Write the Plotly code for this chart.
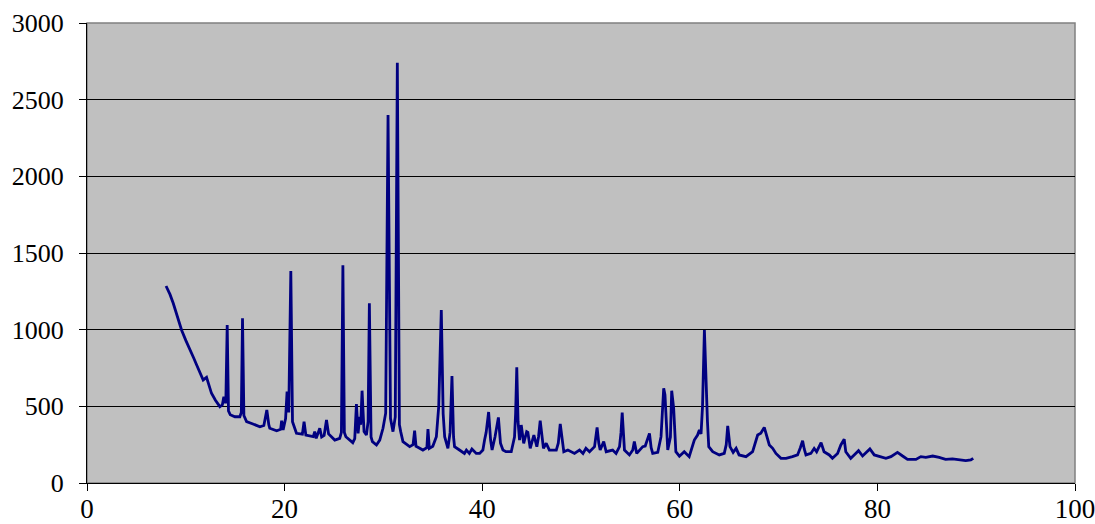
import plotly.graph_objects as go

two_theta = [
    8.0, 8.4, 8.73, 9.1, 9.57, 10.0, 10.4, 10.8, 11.1, 11.5, 11.76, 12.1, 12.3, 12.6, 13.0, 13.45,
    13.7, 13.85, 14.05, 14.19, 14.32, 14.5, 14.97, 15.47, 15.62, 15.74, 15.88, 16.15, 16.8, 17.5,
    17.9, 18.2, 18.4, 18.5, 19.2, 19.6, 19.7, 19.85, 20.1, 20.25, 20.42, 20.63, 20.8, 21.2, 21.8,
    21.97, 22.15, 22.9, 23.05, 23.2, 23.56, 23.75, 24.0, 24.24, 24.45, 24.57, 25.08, 25.58, 25.75,
    25.9, 26.05, 26.2, 26.9, 27.1, 27.27, 27.44, 27.6, 27.7, 27.84, 28.04, 28.28, 28.45, 28.58,
    28.75, 28.89, 29.3, 29.63, 29.96, 30.23, 30.47, 30.72, 30.97, 31.2, 31.41, 31.62, 31.75, 31.98,
    32.66, 33.0, 33.16, 33.3, 33.4, 34.0, 34.4, 34.51, 34.65, 35.0, 35.36, 35.6, 35.86, 36.05, 36.2,
    36.53, 36.75, 36.94, 37.1, 37.2, 37.7, 38.2, 38.4, 38.7, 38.96, 39.4, 39.74, 40.07, 40.24, 40.4,
    40.65, 40.85, 41.0, 41.3, 41.64, 41.85, 42.1, 42.4, 42.94, 43.27, 43.38, 43.5, 43.63, 43.78,
    43.95, 44.2, 44.5, 44.62, 44.86, 45.23, 45.53, 45.7, 45.87, 46.05, 46.2, 46.48, 46.8, 47.5, 47.7,
    47.9, 48.1, 48.26, 48.67, 49.34, 49.85, 50.2, 50.5, 50.86, 51.37, 51.5, 51.63, 51.8, 51.94, 52.3,
    52.55, 53.2, 53.55, 53.9, 54.05, 54.17, 54.3, 54.4, 54.9, 55.24, 55.4, 55.64, 56.25, 56.5, 56.93,
    57.1, 57.26, 57.77, 58.1, 58.37, 58.5, 58.78, 59.05, 59.18, 59.38, 59.6, 59.96, 60.1, 60.45,
    60.95, 61.47, 61.8, 61.98, 62.15, 62.3, 62.49, 62.66, 62.8, 62.93, 63.33, 64.0, 64.5, 64.7, 64.85,
    65.08, 65.4, 65.7, 66.0, 66.7, 67.37, 67.88, 68.2, 68.55, 68.8, 69.06, 69.4, 69.73, 70.24, 70.75,
    71.4, 71.92, 72.2, 72.43, 72.6, 72.77, 73.27, 73.6, 73.85, 74.3, 74.6, 75.13, 75.45, 75.97, 76.3,
    76.64, 76.8, 77.3, 77.65, 78.09, 78.5, 78.8, 79.24, 79.68, 80.2, 80.86, 81.37, 82.03, 82.55,
    83.05, 83.9, 84.4, 84.9, 85.6, 86.25, 86.9, 87.6, 88.27, 88.94, 89.45, 89.7,
]

intensity = [
    1285, 1230, 1172, 1090, 998, 930, 867, 815, 770, 715, 672, 689, 640, 585, 540, 498,
    510, 563, 520, 1030, 470, 445, 432, 432, 460, 1074, 440, 400, 385, 367,
    375, 476, 380, 357, 341, 350, 406, 346, 420, 596, 460, 1383, 400, 324, 318,
    400, 313, 302, 335, 291, 357, 300, 310, 411, 320, 313, 280, 291, 330,
    1420, 330, 302, 263, 290, 515, 324, 432, 380, 602, 335, 313, 400, 1172,
    300, 270, 248, 280, 357, 455, 2400, 420, 335, 431, 2741, 380, 335, 270,
    237, 250, 341, 240, 237, 215, 230, 352, 226, 240, 302, 500, 1128, 450, 302,
    226, 330, 698, 300, 237, 215, 193, 215, 193, 222, 193, 193, 215, 280, 330,
    463, 280, 215, 302, 428, 260, 215, 204, 204, 300, 450, 754, 400, 280,
    378, 259, 335, 330, 226, 313, 237, 300, 406, 280, 226, 259, 215, 215, 260,
    385, 260, 204, 215, 193, 215, 193, 226, 204, 237, 290, 363, 260, 215, 270,
    204, 215, 193, 237, 330, 459, 320, 215, 183, 215, 270, 193, 237, 241, 324,
    230, 193, 200, 302, 618, 574, 215, 300, 602, 487, 204, 175, 183, 204,
    172, 280, 313, 346, 320, 500, 998, 596, 400, 237, 204, 183, 193, 250, 372,
    237, 200, 226, 183, 172, 204, 313, 324, 363, 313, 248, 226, 193, 161, 161,
    172, 183, 230, 276, 220, 183, 193, 226, 204, 263, 204, 183, 161, 193, 248,
    285, 204, 161, 183, 211, 176, 193, 222, 183, 172, 161, 172, 200, 176,
    154, 154, 172, 167, 176, 167, 154, 157, 150, 146, 150, 161,
]

x_ticks = [0, 20, 40, 60, 80, 100]
y_ticks = [0, 500, 1000, 1500, 2000, 2500, 3000]

fig = go.Figure()
fig.add_trace(go.Scatter(
    x=two_theta, y=intensity, mode="lines",
    line=dict(color="#000080", width=2.8),
    showlegend=False, hoverinfo="skip",
))

yfont = dict(family="Liberation Serif", size=26, color="#000000")
xfont = dict(family="Liberation Serif", size=27, color="#000000")

fig.update_layout(
    width=1095, height=524,
    margin=dict(l=87, r=20, t=23, b=41),
    paper_bgcolor="#FFFFFF",
    plot_bgcolor="#C0C0C0",
    font=yfont,
    xaxis=dict(
        range=[0, 100], tickvals=x_ticks, ticktext=[str(v) for v in x_ticks],
        showgrid=False, zeroline=False, automargin=False,
        showline=True, linecolor="#000000", linewidth=1,
        ticks="outside", ticklen=7, tickcolor="#000000", tickwidth=1,
        ticklabelstandoff=-5, ticklabeloverflow="allow",
        tickfont=xfont,
    ),
    yaxis=dict(
        range=[0, 3000], tickvals=y_ticks, ticktext=[str(v) for v in y_ticks],
        showgrid=True, gridcolor="#000000", gridwidth=1,
        zeroline=False, automargin=False,
        showline=True, linecolor="#000000", linewidth=1,
        ticks="outside", ticklen=7, tickcolor="#000000", tickwidth=1,
        ticklabelstandoff=10, ticklabeloverflow="allow",
        tickfont=yfont,
    ),
    shapes=[dict(
        type="rect", xref="paper", yref="paper", x0=0, y0=0, x1=1, y1=1,
        line=dict(color="#808080", width=1.5), layer="below",
    )],
)

fig.write_html(
    "out.html",
    config={"displayModeBar": False, "staticPlot": True},
    post_script="document.body.style.margin='0px';document.body.style.overflow='hidden';",
)
